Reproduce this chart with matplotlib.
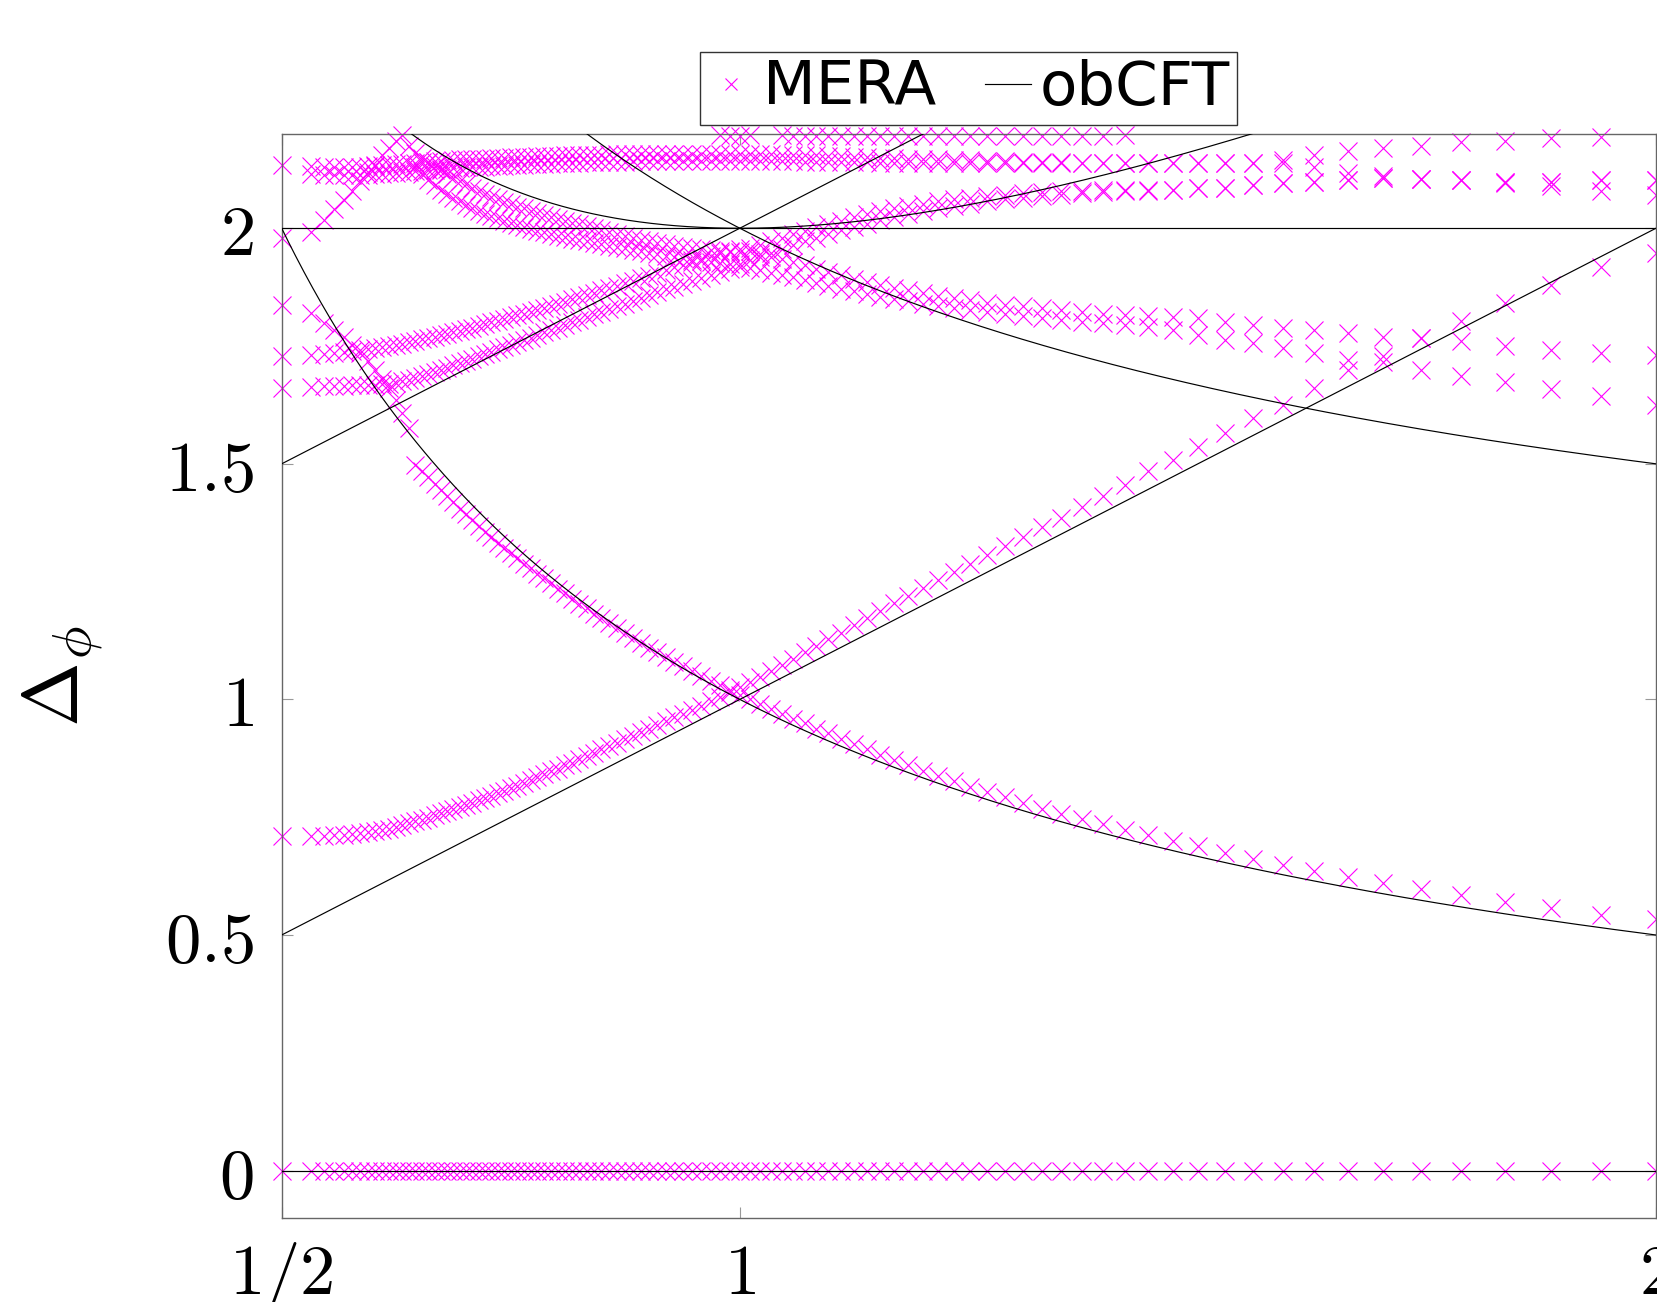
import numpy as np
import matplotlib
matplotlib.use("Agg")
import matplotlib.pyplot as plt

plt.rcParams["mathtext.fontset"] = "cm"
N = np.nan

mera_x = [
    0.5000, 0.5315, 0.5458, 0.5573, 0.5675, 0.5768, 0.5855, 0.5938, 0.6018, 0.6096,
    0.6171, 0.6245, 0.6317, 0.6388, 0.6459, 0.6529, 0.6599, 0.6668, 0.6737, 0.6805,
    0.6874, 0.6943, 0.7011, 0.7080, 0.7149, 0.7219, 0.7289, 0.7359, 0.7429, 0.7500,
    0.7572, 0.7644, 0.7717, 0.7790, 0.7865, 0.7939, 0.8015, 0.8092, 0.8170, 0.8248,
    0.8328, 0.8408, 0.8490, 0.8573, 0.8657, 0.8742, 0.8829, 0.8917, 0.9007, 0.9098,
    0.9191, 0.9286, 0.9382, 0.9480, 0.9580, 0.9682, 0.9786, 0.9892, 1.0001, 1.0112,
    1.0225, 1.0342, 1.0461, 1.0582, 1.0707, 1.0836, 1.0967, 1.1102, 1.1241, 1.1384,
    1.1531, 1.1682, 1.1839, 1.2000, 1.2166, 1.2338, 1.2516, 1.2700, 1.2891, 1.3089,
    1.3294, 1.3508, 1.3731, 1.3963, 1.4206, 1.4459, 1.4725, 1.5003, 1.5296, 1.5604,
    1.5929, 1.6272, 1.6637, 1.7023, 1.7436, 1.7876, 1.8348, 1.8856, 1.9405, 2.0000]

level_zero = [0.0] * len(mera_x)

level_B = [
    0.710, 0.711, 0.711, 0.712, 0.713, 0.714, 0.716, 0.718, 0.720, 0.723,
    0.726, 0.729, 0.733, 0.737, 0.741, 0.745, 0.749, 0.754, 0.758, 0.763,
    0.767, 0.772, 0.776, 0.781, 0.786, 0.791, 0.796, 0.801, 0.806, 0.812,
    0.817, 0.823, 0.829, 0.835, 0.841, 0.847, 0.853, 0.860, 0.866, 0.873,
    0.880, 0.887, 0.894, 0.901, 0.908, 0.916, 0.923, 0.930, 0.938, 0.946,
    0.954, 0.962, 0.970, 0.978, 0.987, 0.996, 1.006, 1.016, 1.026, 1.036,
    1.047, 1.060, 1.073, 1.086, 1.100, 1.114, 1.128, 1.142, 1.157, 1.172,
    1.188, 1.204, 1.220, 1.236, 1.253, 1.270, 1.288, 1.306, 1.325, 1.345,
    1.365, 1.386, 1.408, 1.431, 1.456, 1.484, 1.508, 1.536, 1.565, 1.597,
    1.625, 1.661, 1.699, 1.728, 1.767, 1.804, 1.842, 1.880, 1.918, 1.947]

level_A = [
    1.837, 1.820, 1.798, 1.785, 1.770, 1.752, 1.735, 1.718, 1.700, 1.680,
    1.660, 1.635, 1.607, 1.577, 1.497, 1.485, 1.471, 1.458, 1.444, 1.431,
    1.419, 1.405, 1.393, 1.380, 1.369, 1.356, 1.345, 1.333, 1.322, 1.310,
    1.300, 1.288, 1.278, 1.267, 1.257, 1.246, 1.235, 1.225, 1.214, 1.203,
    1.193, 1.182, 1.172, 1.162, 1.151, 1.141, 1.131, 1.120, 1.110, 1.100,
    1.090, 1.080, 1.070, 1.060, 1.050, 1.040, 1.030, 1.020, 1.010, 1.000,
    0.990, 0.980, 0.970, 0.959, 0.949, 0.938, 0.928, 0.917, 0.906, 0.894,
    0.883, 0.872, 0.861, 0.849, 0.838, 0.827, 0.815, 0.803, 0.792, 0.780,
    0.768, 0.757, 0.746, 0.735, 0.723, 0.712, 0.699, 0.688, 0.675, 0.662,
    0.649, 0.636, 0.623, 0.610, 0.598, 0.584, 0.571, 0.557, 0.543, 0.533]

level_C1 = [
    1.728, 1.731, 1.733, 1.735, 1.737, 1.739, 1.741, 1.743, 1.745, 1.747,
    1.750, 1.752, 1.755, 1.758, 1.761, 1.764, 1.767, 1.770, 1.773, 1.776,
    1.779, 1.782, 1.786, 1.789, 1.793, 1.796, 1.800, 1.803, 1.807, 1.811,
    1.815, 1.819, 1.823, 1.827, 1.831, 1.835, 1.840, 1.844, 1.849, 1.853,
    1.858, 1.863, 1.868, 1.873, 1.878, 1.883, 1.888, 1.894, 1.899, 1.905,
    1.911, 1.917, 1.923, 1.929, 1.935, 1.941, 1.947, 1.952, 1.955, 1.952,
    1.946, 1.940, 1.934, 1.928, 1.921, 1.914, 1.907, 1.900, 1.893, 1.886,
    1.880, 1.874, 1.868, 1.862, 1.857, 1.852, 1.847, 1.842, 1.838, 1.834,
    1.830, 1.826, 1.822, 1.819, 1.816, 1.814, 1.812, 1.809, 1.802, 1.795,
    1.788, 1.785, 1.777, 1.770, 1.767, 1.760, 1.750, 1.742, 1.735, 1.731]

level_C2 = [
    1.660, 1.664, 1.665, 1.666, 1.666, 1.667, 1.667, 1.668, 1.668, 1.669,
    1.670, 1.672, 1.675, 1.678, 1.682, 1.686, 1.690, 1.695, 1.699, 1.704,
    1.709, 1.713, 1.718, 1.723, 1.728, 1.733, 1.738, 1.743, 1.748, 1.753,
    1.758, 1.763, 1.768, 1.773, 1.779, 1.784, 1.789, 1.795, 1.800, 1.806,
    1.811, 1.817, 1.822, 1.828, 1.834, 1.840, 1.846, 1.852, 1.858, 1.864,
    1.870, 1.876, 1.882, 1.889, 1.895, 1.901, 1.907, 1.913, 1.918, 1.915,
    1.911, 1.906, 1.901, 1.896, 1.890, 1.884, 1.878, 1.872, 1.866, 1.860,
    1.855, 1.850, 1.845, 1.840, 1.835, 1.831, 1.826, 1.822, 1.818, 1.814,
    1.810, 1.806, 1.802, 1.798, 1.794, 1.790, 1.785, 1.774, 1.763, 1.756,
    1.745, 1.735, 1.721, 1.716, 1.700, 1.687, 1.673, 1.659, 1.643, 1.625]

level_D1 = [
    1.979, 1.993, 2.018, 2.040, 2.060, 2.080, 2.100, 2.120, 2.135, 2.155,
    2.170, 2.185, 2.198, 2.175, 2.160, 2.150, 2.140, 2.132, 2.123, 2.115,
    2.107, 2.100, 2.093, 2.086, 2.079, 2.073, 2.067, 2.061, 2.056, 2.051,
    2.046, 2.042, 2.037, 2.033, 2.028, 2.024, 2.020, 2.016, 2.012, 2.008,
    2.004, 2.000, 1.996, 1.992, 1.988, 1.984, 1.980, 1.976, 1.972, 1.969,
    1.966, 1.963, 1.960, 1.957, 1.955, 1.953, 1.951, 1.950, 1.950, 1.957,
    1.965, 1.972, 1.980, 1.988, 1.995, 2.002, 2.009, 2.016, 2.023, 2.030,
    2.036, 2.042, 2.047, 2.052, 2.057, 2.061, 2.065, 2.068, 2.071, 2.074,
    2.076, 2.078, 2.080, 2.081, 2.081, 2.081, 2.081, 2.085, 2.085, 2.092,
    2.096, 2.099, 2.103, 2.106, 2.104, 2.103, 2.099, 2.099, 2.103, 2.103]

level_D2 = [N] * 14 + [
                                        2.130, 2.115, 2.103, 2.092, 2.082, 2.073,
    2.065, 2.057, 2.050, 2.043, 2.037, 2.031, 2.026, 2.021, 2.016, 2.011,
    2.007, 2.003, 1.999, 1.995, 1.991, 1.988, 1.984, 1.981, 1.978, 1.975,
    1.972, 1.969, 1.966, 1.963, 1.960, 1.957, 1.954, 1.951, 1.948, 1.945,
    1.942, 1.939, 1.936, 1.933, 1.930, 1.928, 1.926, 1.925, 1.925, 1.932,
    1.940, 1.948, 1.956, 1.964, 1.972, 1.980, 1.988, 1.996, 2.003, 2.010,
    2.017, 2.024, 2.030, 2.036, 2.042, 2.047, 2.052, 2.057, 2.061, 2.065,
    2.068, 2.071, 2.074, 2.077, 2.079, 2.080, 2.081, 2.085, 2.085, 2.092,
    2.096, 2.099, 2.103, 2.106, 2.104, 2.103, 2.099, 2.099, 2.103, 2.103]

level_E1 = [
    2.134, 2.132, 2.131, 2.130, 2.130, 2.130, 2.131, 2.132, 2.133, 2.134,
    2.135, 2.136, 2.137, 2.138, 2.139, 2.140, 2.141, 2.142, 2.143, 2.144,
    2.145, 2.146, 2.146, 2.147, 2.148, 2.148, 2.149, 2.150, 2.150, 2.151,
    2.151, 2.152, 2.152, 2.153, 2.153, 2.154, 2.154, 2.155, 2.155, 2.155,
    2.156, 2.156, 2.156, 2.157, 2.157, 2.157, 2.157, 2.158, 2.158, 2.158,
    2.158, 2.158, 2.158, 2.158, 2.158, 2.158, 2.158, 2.158, 2.158, 2.158,
    2.157, 2.157, 2.156, 2.156, 2.155, 2.155, 2.154, 2.153, 2.152, 2.151,
    2.150, 2.149, 2.148, 2.147, 2.146, 2.145, 2.144, 2.143, 2.142, 2.141,
    2.140, 2.140, 2.139, 2.139, 2.138, 2.138, 2.138, 2.138, 2.138, 2.139,
    2.145, 2.156, 2.163, 2.170, 2.175, 2.182, 2.186, 2.191, 2.194, N]

level_E2 = [
    N, 2.115, 2.113, 2.112, 2.112, 2.112, 2.113, 2.114, 2.115, 2.116,
    2.117, 2.118, 2.119, 2.120, 2.121, 2.122, 2.123, 2.124, 2.125, 2.126,
    2.127, 2.128, 2.129, 2.130, 2.131, 2.131, 2.132, 2.133, 2.133, 2.134,
    2.135, 2.135, 2.136, 2.136, 2.137, 2.137, 2.138, 2.138, 2.139, 2.139,
    2.140, 2.140, 2.140, 2.141, 2.141, 2.141, 2.142, 2.142, 2.142, 2.142,
    2.143, 2.143, 2.143, 2.143, 2.143, 2.143, 2.143, 2.143, 2.143, 2.143,
    2.143, 2.142, 2.142, 2.142, 2.141, 2.141, 2.141, 2.140, 2.140, 2.140,
    2.139, 2.139, 2.139, 2.139, 2.138, 2.138, 2.138, 2.138, 2.138, 2.138,
    2.138, 2.138, 2.138, 2.138, 2.138, 2.138, 2.138, 2.138, 2.138, 2.138,
    2.138, 2.131, 2.117, 2.110, 2.104, 2.103, 2.096, 2.089, 2.078, 2.071]

level_F = ([N] * 56 + [2.197, 2.195, 2.195, 2.197] + [N, N] +
           [2.197, 2.195, 2.195, 2.195, 2.195, 2.195, 2.195, 2.195, 2.195, 2.195,
            2.195, 2.195, 2.195, 2.195, 2.195, 2.195, 2.195, 2.195, 2.195, 2.195,
            2.195, 2.195, 2.197] + [N] * 15)

mera_levels = [level_zero, level_B, level_A, level_C1, level_C2,
               level_D1, level_D2, level_E1, level_E2, level_F]

# obCFT boundary scaling dimensions as functions of the x-axis parameter
obcft_curves = [
    lambda x: 0 * x,
    lambda x: x,
    lambda x: 1 / x,
    lambda x: 1 + x,
    lambda x: 1 + 1 / x,
    lambda x: x + 1 / x,
    lambda x: 2 + 0 * x,
]

x_ticks = [0.5, 1, 2]
x_tick_labels = [r"$1/2$", r"$1$", r"$2$"]
y_ticks = [0, 0.5, 1, 1.5, 2]
y_tick_labels = [r"$0$", r"$0.5$", r"$1$", r"$1.5$", r"$2$"]

W, H = 1658, 1302
fig = plt.figure(figsize=(W / 100, H / 100), dpi=100)
ax = fig.add_axes([281.7 / W, (H - 1217.7) / H, (1656 - 281.7) / W, (1217.7 - 134) / H])

for i, lev in enumerate(mera_levels):
    ax.plot(mera_x, lev, ls="none", marker="x", ms=12.5, mew=0.8,
            color="#ff00ff", clip_on=False, zorder=2,
            label="MERA" if i == 0 else None)

xs = np.linspace(0.5, 2.0, 800)
for j, f in enumerate(obcft_curves):
    ax.plot(xs, f(xs), color="black", lw=0.85, zorder=3,
            label="obCFT" if j == 0 else None)

ax.set_xlim(0.5, 2.0)
ax.set_ylim(-0.1, 2.2)
ax.set_xticks(x_ticks)
ax.set_xticklabels(x_tick_labels)
ax.set_yticks(y_ticks)
ax.set_yticklabels(y_tick_labels)
ax.tick_params(axis="both", direction="in", length=8, width=0.8, color="0.6",
               top=True, right=True, labelsize=51)
ax.tick_params(axis="x", pad=16)
ax.tick_params(axis="y", pad=20)
for sp in ax.spines.values():
    sp.set_color("0.4")
    sp.set_linewidth(1.0)

ax.set_ylabel(r"$\Delta_\phi$", fontsize=56)
ax.yaxis.set_label_coords(-0.128, 0.5)

leg = ax.legend(loc="lower center", bbox_to_anchor=(0.5, 1.008), ncol=2,
                frameon=True, fancybox=False, edgecolor="black",
                prop={"family": "DejaVu Sans", "size": 44},
                handlelength=0.75, handletextpad=0.15, columnspacing=0.8,
                borderpad=0.12, borderaxespad=0.0, markerscale=0.7)
leg.get_frame().set_linewidth(1.0)

fig.savefig("out.png", dpi=100)
